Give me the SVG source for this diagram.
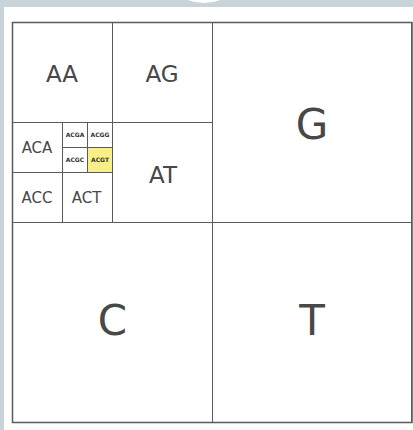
<svg xmlns="http://www.w3.org/2000/svg" width="413" height="430" viewBox="0 0 413 430">
<style>
.c{fill:none;stroke:#5a5a5a;stroke-width:1}
.t{font-family:"DejaVu Sans",sans-serif;fill:#484848;text-anchor:middle}
.s{font-weight:bold;fill:#333}
</style>
<rect x="0" y="0" width="413" height="430" fill="#c9d3da"/>
<rect x="4" y="7" width="409" height="423" fill="#ffffff"/>
<circle cx="204" cy="-44" r="47" fill="#ffffff"/>
<g id="G"><rect class="c" x="212.5" y="22.5" width="199" height="200"/><text class="t" x="312" y="139" font-size="42">G</text></g>
<g id="C"><rect class="c" x="12.5" y="222.5" width="200" height="200"/><text class="t" x="112.5" y="335" font-size="42">C</text></g>
<g id="T"><rect class="c" x="212.5" y="222.5" width="199" height="200"/><text class="t" x="312" y="335" font-size="42">T</text></g>
<g id="AA"><rect class="c" x="12.5" y="22.5" width="100" height="100"/><text class="t" x="62" y="81.5" font-size="23">AA</text></g>
<g id="AG"><rect class="c" x="112.5" y="22.5" width="100" height="100"/><text class="t" x="162" y="81.5" font-size="23">AG</text></g>
<g id="AT"><rect class="c" x="112.5" y="122.5" width="100" height="100"/><text class="t" x="163" y="183" font-size="23">AT</text></g>
<g id="ACA"><rect class="c" x="12.5" y="122.5" width="50" height="50"/><text class="t" x="37" y="153.2" font-size="15">ACA</text></g>
<g id="ACC"><rect class="c" x="12.5" y="172.5" width="50" height="50"/><text class="t" x="37" y="202.6" font-size="15">ACC</text></g>
<g id="ACT"><rect class="c" x="62.5" y="172.5" width="50" height="50"/><text class="t" x="86.5" y="202.6" font-size="15">ACT</text></g>
<g id="ACGA"><rect class="c" x="62.5" y="122.5" width="25" height="25"/><text class="t s" x="75" y="137" font-size="6">ACGA</text></g>
<g id="ACGG"><rect class="c" x="87.5" y="122.5" width="25" height="25"/><text class="t s" x="100" y="137" font-size="6">ACGG</text></g>
<g id="ACGC"><rect class="c" x="62.5" y="147.5" width="25" height="25"/><text class="t s" x="75" y="162" font-size="6">ACGC</text></g>
<g id="ACGT"><rect class="c" x="87.5" y="147.5" width="25" height="25" style="fill:#f8ef88"/><text class="t s" x="100" y="162" font-size="6">ACGT</text></g>
<g id="connectors"><rect x="12.5" y="22.5" width="399.5" height="400" fill="none" stroke="#5a5a5a" stroke-width="1.5"/></g>
</svg>
